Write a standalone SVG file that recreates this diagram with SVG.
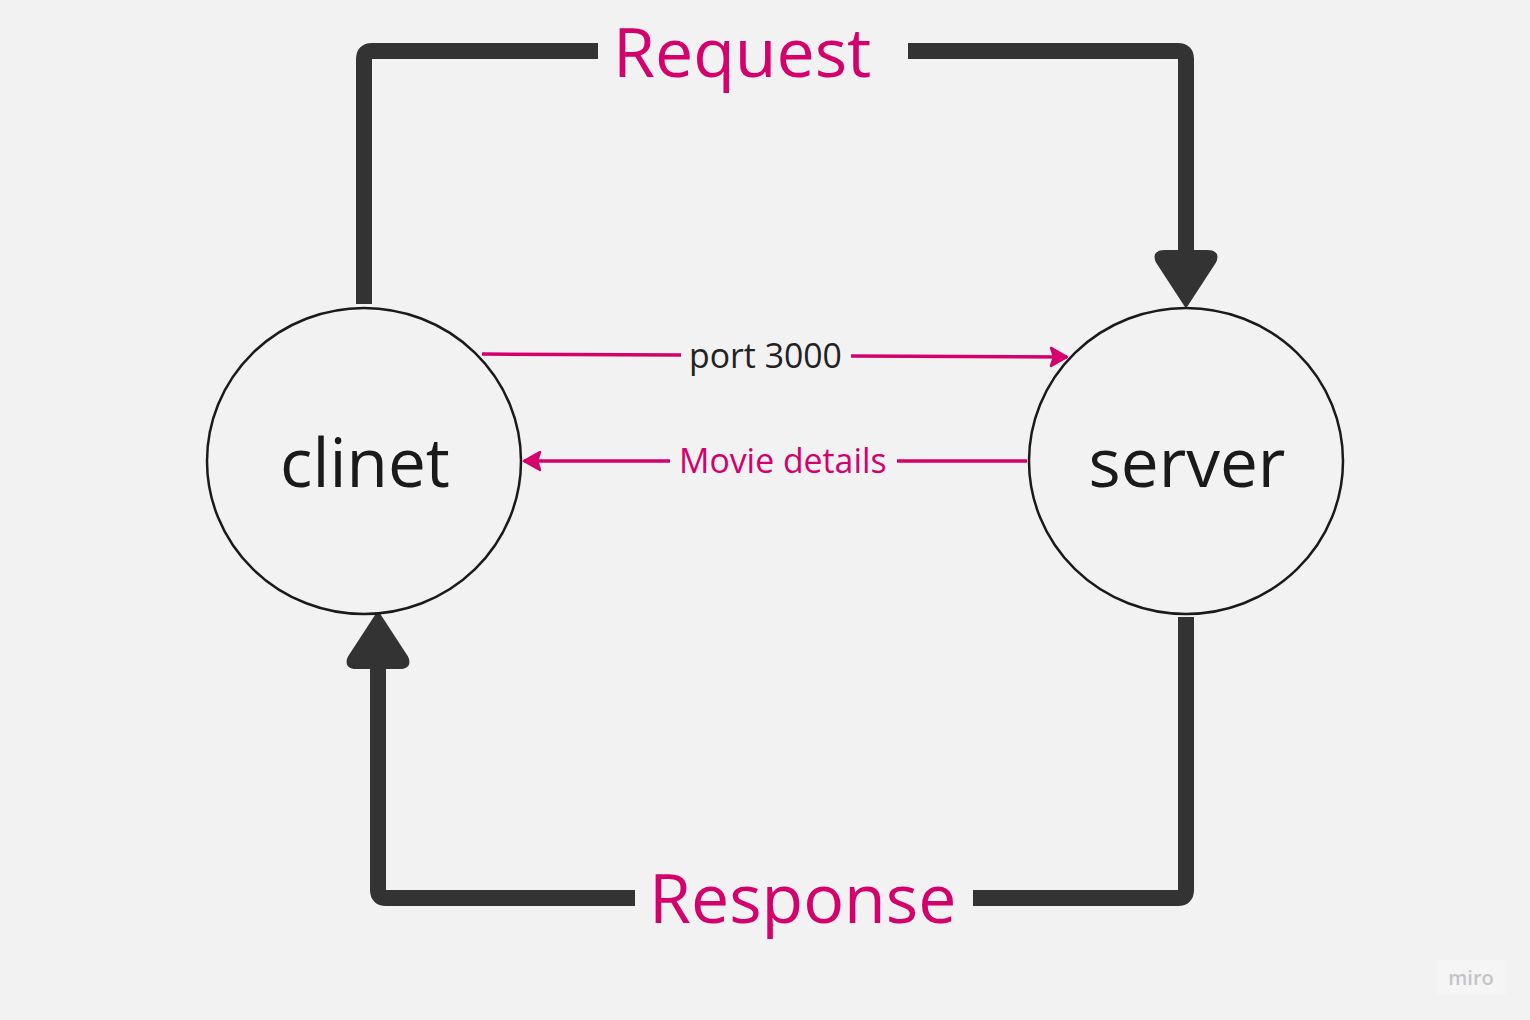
<svg xmlns="http://www.w3.org/2000/svg" width="1530" height="1020" viewBox="0 0 1530 1020">
<defs>
<style>
.thick{fill:none;stroke:#333333;stroke-width:16;stroke-linejoin:round}
.pink{fill:none;stroke:#d5006c;stroke-width:3.5}
.node{fill:#f2f2f2;stroke:#1a1a1a;stroke-width:2.5}
.big{font-family:"Open Sans","Noto Sans",sans-serif;fill:#d5006c;font-size:68px}
.nlabel{font-family:"Open Sans","Noto Sans",sans-serif;fill:#1a1a1a;font-size:67.5px;text-anchor:middle}
.small{font-family:"Open Sans","Noto Sans",sans-serif;font-size:33.8px}
</style>
<marker id="pinkArrow" viewBox="0 0 24 24" refX="21" refY="12" markerWidth="24" markerHeight="24" markerUnits="userSpaceOnUse" orient="auto">
<path d="M5,3 L21,12 L5,21 L8,12 Z" fill="#d5006c" stroke="#d5006c" stroke-width="2.5" stroke-linejoin="round"/>
</marker>
</defs>
<rect width="1530" height="1020" fill="#f2f2f2"/>
<g id="connectors">
<path class="thick" d="M364,304 V59 Q364,51 372,51 H598"/>
<path class="thick" d="M908,51 H1178 Q1186,51 1186,59 V262"/>
<path d="M1186,305 L1158,262 Q1153,252 1165,252 L1207,252 Q1219,252 1214,262 Z" fill="#333333" stroke="#333333" stroke-width="4" stroke-linejoin="round"/>
<path class="thick" d="M1186,617 V890 Q1186,898 1178,898 H973"/>
<path class="thick" d="M635,898 H386 Q378,898 378,890 V660"/>
<path d="M378,614 L406,657 Q411,667 399,667 L357,667 Q345,667 350,657 Z" fill="#333333" stroke="#333333" stroke-width="4" stroke-linejoin="round"/>
<path class="pink" d="M482,354 L681,355"/>
<path class="pink" d="M851,356 L1067,357" marker-end="url(#pinkArrow)"/>
<path class="pink" d="M1027,461 L897,461"/>
<path class="pink" d="M670,461 L524,461" marker-end="url(#pinkArrow)"/>
<text class="big" x="613" y="77">Request</text>
<text class="big" x="649" y="923">Response</text>
<text class="small" x="689" y="368" fill="#222222">port 3000</text>
<text class="small" x="679" y="473" fill="#d5006c">Movie details</text>
</g>
<g id="client">
<ellipse class="node" cx="364" cy="461" rx="157" ry="153"/>
<text class="nlabel" x="365" y="487">clinet</text>
</g>
<g id="server">
<ellipse class="node" cx="1186" cy="461" rx="157" ry="153"/>
<text class="nlabel" x="1187" y="487">server</text>
</g>
<g id="watermark">
<rect x="1437" y="960" width="69" height="34" fill="#f5f5f5"/>
<text x="1471" y="985" font-family="Open Sans, sans-serif" font-size="20" font-weight="600" fill="#c4c4c8" text-anchor="middle">miro</text>
</g>
</svg>
